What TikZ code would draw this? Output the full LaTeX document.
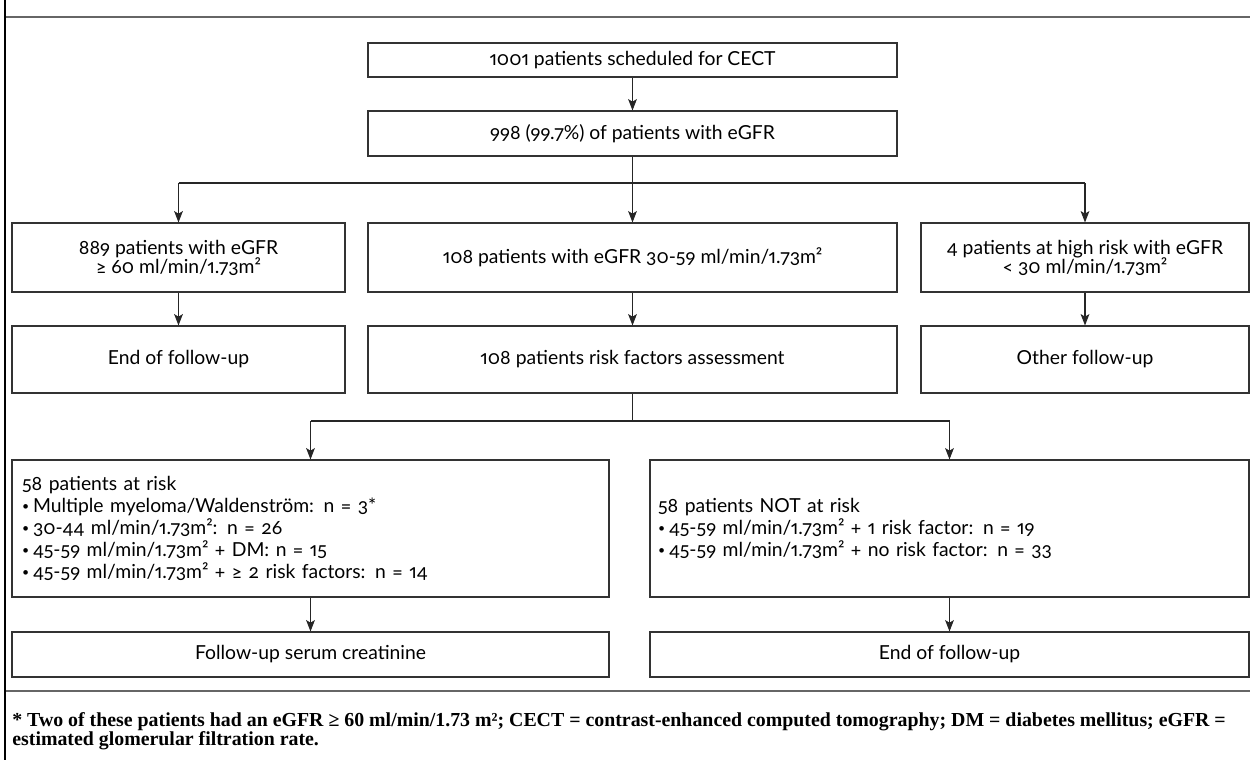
\documentclass[tikz,border=0pt]{standalone}
\usepackage{fontspec}
\setmainfont{Lato}[Numbers={OldStyle,Proportional}]
\newfontfamily\notefont{Liberation Serif}
\usetikzlibrary{arrows,arrows.meta,positioning}
\newcommand\tightlines{\lineskiplimit=-100pt\relax}
\newcommand\listdot{\raisebox{0.25ex}{\fontsize{7}{7}\selectfont•}\hspace{0.2em}}

\tikzset{
  flowbox/.style 2 args={draw=black!80,line width=0.6pt,inner sep=0pt,align=center,
    minimum width=#1*0.02cm,minimum height=#2*0.02cm,
    font=\fontsize{11}{10.8}\selectfont\tightlines},
  listbox/.style={align=left,inner xsep=0.2cm,text width=11.54cm,
    font=\fontsize{11}{12.5}\selectfont\tightlines},
  flowline/.style={line width=0.6pt,draw=black!85},
  flowarrow/.style={flowline,-{Stealth[length=6.5pt,width=5pt,inset=1.5pt]}},
  frameline/.style={draw=black!60,line width=1.4pt}
}

\begin{document}
\begin{tikzpicture}[x=0.02cm,y=-0.02cm]
\useasboundingbox (0,0) rectangle (1250,760);
% frame round the figure
\draw[frameline] (5,17) -- (1250,17);
\draw[frameline] (5,691) -- (1250,691);
\draw[line width=1pt] (5,0) -- (5,760);

% first two steps
\node[flowbox={529}{34}](cect)at(632.5,60){1001 patients scheduled for CECT};
\node[flowbox={529}{45}](egfr)at(632.5,133.5){998 (99.7\%) of patients with eGFR};

% eGFR groups
\node[flowbox={333}{69}](high)at(178.5,257.5){889 patients with eGFR\\≥ 60 ml/min/1.73m²};
\node[flowbox={529}{69}](mid)at(632.5,257.5){108 patients with eGFR 30-59 ml/min/1.73m²};
\node[flowbox={328}{69}](low)at(1085,257.5){4 patients at high risk with eGFR\\< 30 ml/min/1.73m²};

\node[flowbox={333}{67}](endA)at(178.5,359.5){End of follow-up};
\node[flowbox={529}{67}](assess)at(632.5,359.5){108 patients risk factors assessment};
\node[flowbox={328}{67}](other)at(1085,359.5){Other follow-up};

% risk groups
\node[flowbox={597}{137},listbox](risk)at(310.5,528.5){58 patients at risk\\
\listdot Multiple myeloma/Waldenström: n = 3*\\
\listdot 30-44 ml/min/1.73m²: n = 26\\
\listdot 45-59 ml/min/1.73m² + DM: n = 15\\
\listdot 45-59 ml/min/1.73m² + ≥ 2 risk factors: n = 14};
\node[flowbox={599}{137},listbox,inner xsep=0.16cm,text width=11.66cm](norisk)at(949.5,528.5){58 patients NOT at risk\\
\listdot 45-59 ml/min/1.73m² + 1 risk factor: n = 19\\
\listdot 45-59 ml/min/1.73m² + no risk factor: n = 33};

\node[flowbox={597}{45}](creat)at(310.5,654.5){Follow-up serum creatinine};
\node[flowbox={599}{45}](endB)at(949.5,654.5){End of follow-up};

% footnote
\node[anchor=north west,inner sep=0pt,align=left,
  font=\notefont\bfseries\fontsize{11.3}{10.8}\selectfont\tightlines](note)at(12,712){* Two of these patients had an eGFR ≥ 60 ml/min/1.73 m²; CECT = contrast-enhanced computed tomography; DM = diabetes mellitus; eGFR =\\
estimated glomerular filtration rate.};

% connectors
\coordinate(splitA)at(632.5,183);
\coordinate(splitB)at(632.5,421);
\draw[flowarrow] (cect) -- (egfr);
\draw[flowline] (egfr) -- (splitA);
\draw[flowline] (splitA -| high) -- (splitA -| low);
\draw[flowarrow] (splitA -| high) -- (high);
\draw[flowarrow] (splitA) -- (mid);
\draw[flowarrow] (splitA -| low) -- (low);
\draw[flowarrow] (high) -- (endA);
\draw[flowarrow] (mid) -- (assess);
\draw[flowarrow] (low) -- (other);
\draw[flowline] (assess) -- (splitB);
\draw[flowline] (splitB -| risk) -- (splitB -| norisk);
\draw[flowarrow] (splitB -| risk) -- (risk);
\draw[flowarrow] (splitB -| norisk) -- (norisk);
\draw[flowarrow] (risk) -- (creat);
\draw[flowarrow] (norisk) -- (endB);
\end{tikzpicture}
\end{document}
